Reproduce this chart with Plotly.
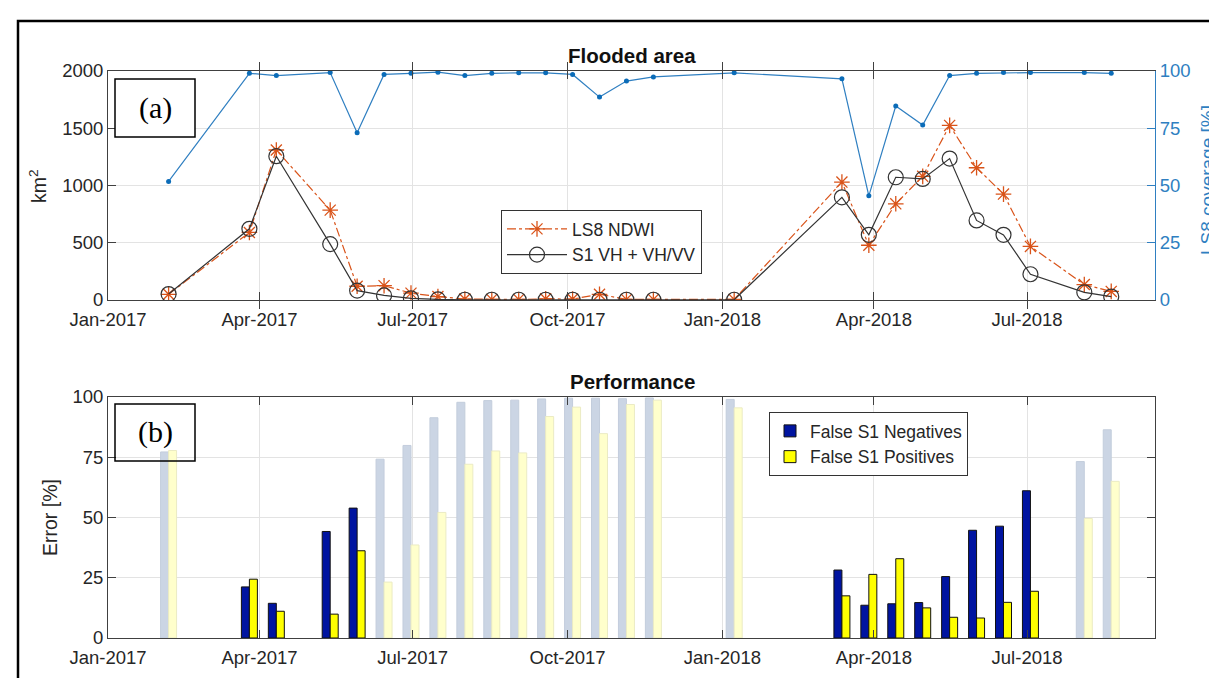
import plotly.graph_objects as go

# ---------------- data ----------------
dates = ['2017-02-06', '2017-03-26', '2017-04-11', '2017-05-13', '2017-05-29', '2017-06-14',
         '2017-06-30', '2017-07-16', '2017-08-01', '2017-08-17', '2017-09-02', '2017-09-18',
         '2017-10-04', '2017-10-20', '2017-11-05', '2017-11-21', '2018-01-08', '2018-03-13',
         '2018-03-29', '2018-04-14', '2018-04-30', '2018-05-16', '2018-06-01', '2018-06-17',
         '2018-07-03', '2018-08-04', '2018-08-20']

ls8_ndwi = [50, 590, 1310, 785, 120, 125, 60, 30, 8, 5, 5, 10, 8, 50, 5, 5, 5,
            1030, 478, 840, 1080, 1525, 1155, 925, 468, 135, 75]
s1_vh = [52, 622, 1256, 488, 82, 40, 15, 5, 2, 2, 2, 2, 2, 2, 2, 2, 2,
         897, 569, 1072, 1057, 1235, 695, 569, 225, 67, 30]
ls8_coverage = [51.8, 99, 98, 99.3, 73, 98.5, 99, 99.5, 98, 99, 99.2, 99.2, 98.5, 88.6,
                95.6, 97.4, 99.2, 96.6, 45.5, 84.7, 76.4, 98, 99, 99.3, 99.3, 99.3, 99]

false_neg = [77.2, 21.2, 14.4, 44.2, 53.9, 74.2, 79.9, 91.4, 97.8, 98.5, 98.7, 99.2, 99.5, 99.5,
             99.3, 99.6, 99.0, 28.2, 13.6, 14.2, 14.7, 25.5, 44.7, 46.4, 61.1, 73.2, 86.4]
false_pos = [77.8, 24.4, 11.1, 9.9, 36.2, 23.2, 38.6, 52.1, 72.1, 77.6, 76.8, 91.9, 95.8, 84.8,
             96.9, 98.7, 95.5, 17.5, 26.4, 32.9, 12.5, 8.6, 8.3, 14.8, 19.4, 49.6, 65.0]
faded = [1, 0, 0, 0, 0, 1, 1, 1, 1, 1, 1, 1, 1, 1, 1, 1, 1, 0, 0, 0, 0, 0, 0, 0, 0, 1, 1]

# ---------------- layout helpers ----------------
W, H = 1217, 678
L, R, T, B = 100, 70, 63, 48
pw, ph = W - L - R, H - T - B


def px(x):
    return (x - L) / pw


def py(y):
    return (H - B - y) / ph


FONT = 'Liberation Sans'
TICK = '#262626'
GRID = '#e3e3e3'
AXC = '#404040'
BLUE = '#2f7fc1'
ORANGE = '#D95319'
BARW = 4.75 * 86400000  # bar width in ms

fig = go.Figure()

# top panel
fig.add_trace(go.Scatter(x=dates, y=ls8_coverage, xaxis='x', yaxis='y2', mode='lines+markers',
                         line=dict(color=BLUE, width=1.2), marker=dict(size=5, color='#0b6cb8'),
                         showlegend=False, name='LS8 coverage'))
fig.add_trace(go.Scatter(x=dates, y=ls8_ndwi, xaxis='x', yaxis='y', mode='lines+markers',
                         name='LS8 NDWI', legend='legend',
                         line=dict(color=ORANGE, width=1.2, dash='dashdot'),
                         marker=dict(symbol='asterisk-open', size=13, color=ORANGE,
                                     line=dict(color=ORANGE, width=1.3))))
fig.add_trace(go.Scatter(x=dates, y=s1_vh, xaxis='x', yaxis='y', mode='lines+markers',
                         name='S1 VH + VH/VV', legend='legend',
                         line=dict(color='#333333', width=1.2),
                         marker=dict(symbol='circle-open', size=15, color='#333333',
                                     line=dict(color='#333333', width=1.2))))

# bottom panel
d_full = [d for d, f in zip(dates, faded) if not f]
d_fade = [d for d, f in zip(dates, faded) if f]
neg_full = [v for v, f in zip(false_neg, faded) if not f]
neg_fade = [v for v, f in zip(false_neg, faded) if f]
pos_full = [v for v, f in zip(false_pos, faded) if not f]
pos_fade = [v for v, f in zip(false_pos, faded) if f]

fig.add_trace(go.Bar(x=d_fade, y=neg_fade, xaxis='x2', yaxis='y3', width=BARW, offset=-BARW,
                     marker=dict(color='#cbd5e4', line=dict(color='#c3cddc', width=1)),
                     showlegend=False, hoverinfo='skip'))
fig.add_trace(go.Bar(x=d_fade, y=pos_fade, xaxis='x2', yaxis='y3', width=BARW, offset=0,
                     marker=dict(color='#ffffcc', line=dict(color='#ebebc4', width=1)),
                     showlegend=False, hoverinfo='skip'))
fig.add_trace(go.Bar(x=d_full, y=neg_full, xaxis='x2', yaxis='y3', width=BARW, offset=-BARW,
                     name='False S1 Negatives', legend='legend2',
                     marker=dict(color='#0014a0', line=dict(color='#111111', width=1))))
fig.add_trace(go.Bar(x=d_full, y=pos_full, xaxis='x2', yaxis='y3', width=BARW, offset=0,
                     name='False S1 Positives', legend='legend2',
                     marker=dict(color='#ffff00', line=dict(color='#111111', width=1))))

xcommon = dict(type='date', range=['2017-01-01', '2018-09-15'], dtick='M3', tick0='2017-01-01',
               tickformat='%b-%Y', showgrid=True, gridcolor=GRID, showline=True, linecolor=AXC,
               linewidth=1, mirror='allticks', ticks='inside', ticklen=8, tickcolor=AXC,
               ticklabelstandoff=3,
               tickfont=dict(size=18.5, color=TICK, family=FONT), zeroline=False)

top0 = py(292)
bot1 = py(389)

fig.update_layout(
    width=W, height=H, margin=dict(l=L, r=R, t=T, b=B),
    paper_bgcolor='white', plot_bgcolor='white',
    font=dict(family=FONT, color=TICK),
    barmode='overlay',
    xaxis=dict(anchor='y', domain=[0, 1], **xcommon),
    yaxis=dict(domain=[top0, 1], range=[0, 2000], dtick=500, showgrid=True, gridcolor=GRID,
               showline=True, linecolor=AXC, ticks='inside', ticklen=8, tickcolor=AXC,
               tickfont=dict(size=18.5, color=TICK), zeroline=False),
    yaxis2=dict(overlaying='y', side='right', range=[0, 100], dtick=25, showgrid=False,
                showline=True, linecolor=BLUE, ticks='inside', ticklen=8, tickcolor=BLUE,
                tickfont=dict(size=18.5, color=BLUE), zeroline=False),
    xaxis2=dict(anchor='y3', domain=[0, 1], **xcommon),
    yaxis3=dict(domain=[0, bot1], range=[0, 100], dtick=25, showgrid=True, gridcolor=GRID,
                showline=True, linecolor=AXC, mirror='allticks', ticks='inside', ticklen=8,
                tickcolor=AXC, tickfont=dict(size=18.5, color=TICK), zeroline=False),
    legend=dict(x=px(493), y=py(202), xanchor='left', yanchor='top', bgcolor='white',
                bordercolor='#333333', borderwidth=1, itemwidth=60,
                font=dict(size=17.5, color=TICK), tracegroupgap=0),
    legend2=dict(x=px(761), y=py(404), xanchor='left', yanchor='top', bgcolor='white',
                 bordercolor='#333333', borderwidth=1,
                 font=dict(size=17.5, color=TICK)),
)

shapes = [
    # outer frame
    dict(type='rect', xref='paper', yref='paper', x0=px(10), x1=px(1230), y0=py(690), y1=py(13),
         line=dict(color='black', width=2.5), layer='above'),
    # (a) box
    dict(type='rect', xref='paper', yref='paper', x0=px(107), x1=px(187), y0=py(129), y1=py(71),
         line=dict(color='black', width=1.5), fillcolor='white', layer='above'),
    # (b) box (open so the bars behind it stay visible)
    dict(type='rect', xref='paper', yref='paper', x0=px(107), x1=px(187), y0=py(453), y1=py(396),
         line=dict(color='black', width=1.5), fillcolor='rgba(0,0,0,0)', layer='above'),
]
fig.update_layout(shapes=shapes)

ann = [
    dict(text='(a)', x=px(147), y=py(100), font=dict(family='Liberation Serif', size=30, color='black')),
    dict(text='(b)', x=px(147), y=py(424), font=dict(family='Liberation Serif', size=30, color='black')),
    dict(text='<b>Flooded area</b>', x=px(624), y=py(48), font=dict(size=20.5, color='#111111')),
    dict(text='<b>Performance</b>', x=px(624), y=py(373), font=dict(size=20.5, color='#111111')),
    dict(text='km<sup>2</sup>', x=px(30), y=py(178), textangle=-90, font=dict(size=19.5, color=TICK)),
    dict(text='LS8 coverage [%]', x=px(1199), y=py(172), textangle=-90, font=dict(size=19, color=BLUE)),
    dict(text='Error [%]', x=px(42), y=py(510), textangle=-90, font=dict(size=19.5, color=TICK)),
]
for a in ann:
    a.update(xref='paper', yref='paper', showarrow=False, xanchor='center', yanchor='middle')
fig.update_layout(annotations=ann)

fig.write_html('out.html')
